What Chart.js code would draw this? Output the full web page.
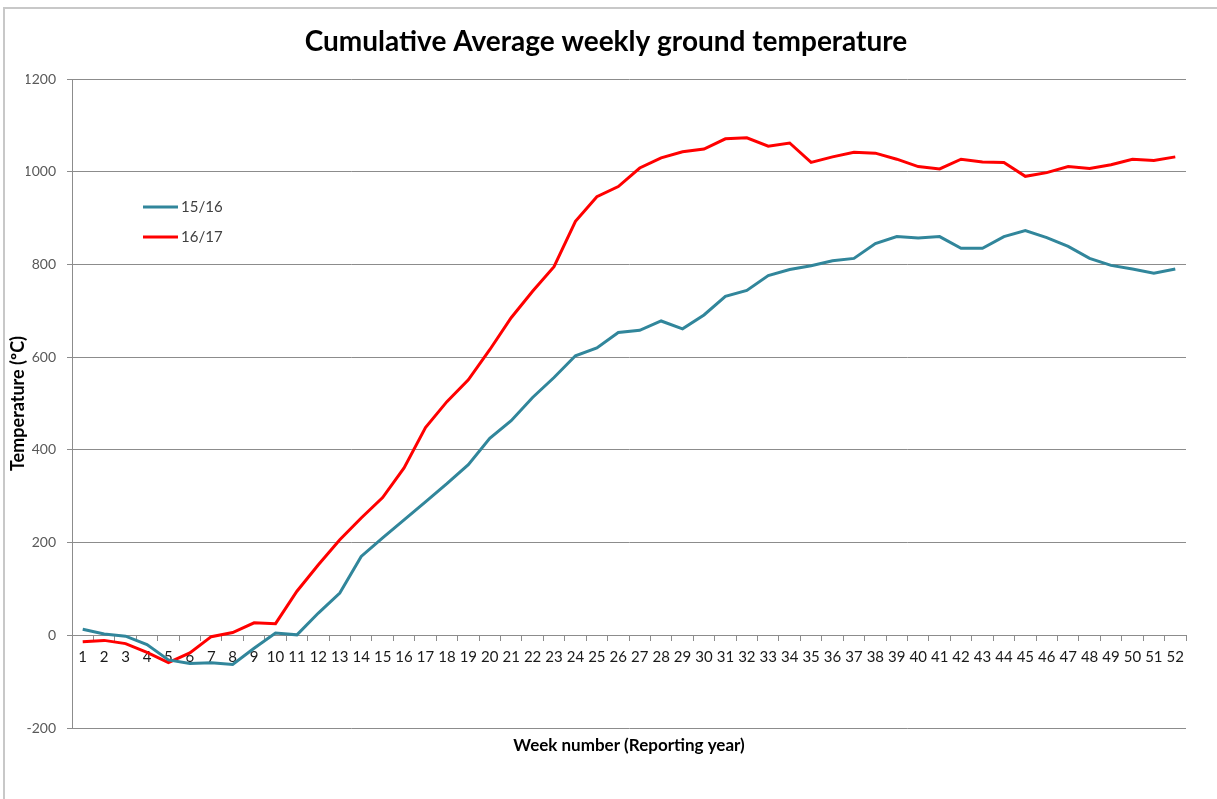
<!DOCTYPE html>
<html>
<head>
<meta charset="utf-8">
<title>Cumulative Average weekly ground temperature</title>
<script src="https://cdn.jsdelivr.net/npm/chart.js"></script>
<style>
    html, body { margin: 0; padding: 0; background: #ffffff; }
    #moldura {
        position: absolute; left: 3px; top: 7px; width: 1214px; height: 792px;
        border-left: 2px solid #c8c8c8; border-top: 2px solid #c8c8c8;
        pointer-events: none;
    }
    canvas { position: absolute; left: 0; top: 0; }
</style>
</head>
<body>
<canvas id="graficoTemperatura" width="1217" height="799"></canvas>
<div id="moldura"></div>
<script>
// semanas do ano de reporte
const semanas = [
    '1', '2', '3', '4', '5', '6', '7', '8', '9', '10', '11', '12', '13',
    '14', '15', '16', '17', '18', '19', '20', '21', '22', '23', '24', '25', '26',
    '27', '28', '29', '30', '31', '32', '33', '34', '35', '36', '37', '38', '39',
    '40', '41', '42', '43', '44', '45', '46', '47', '48', '49', '50', '51', '52'
];

// temperatura acumulada 15/16
const temp1516 = [
    13, 3, -2, -20, -53, -61, -59, -63, -28, 5, 1, 48, 91,
    170, 210, 249, 288, 327, 368, 425, 463, 513, 556, 603, 620, 653,
    658, 678, 661, 691, 731, 744, 776, 789, 797, 808, 813, 845, 860,
    857, 860, 835, 835, 860, 873, 858, 839, 813, 798, 790, 781, 790
];

// temperatura acumulada 16/17
const temp1617 = [
    -14, -11, -18, -37, -59, -38, -3, 6, 27, 25, 95, 152, 206,
    253, 297, 361, 448, 504, 551, 616, 685, 742, 795, 893, 946, 968,
    1008, 1030, 1043, 1049, 1071, 1073, 1055, 1062, 1020, 1032, 1042, 1040, 1027,
    1011, 1006, 1027, 1021, 1020, 990, 998, 1011, 1007, 1015, 1027, 1024, 1032
];

const ticksY = [-200, 0, 200, 400, 600, 800, 1000, 1200];

const corGrade = '#8c8c8c';

// legenda desenhada dentro da area do grafico, como no Excel
const legendaInterna = {
    id: 'legendaInterna',
    afterDraw(chart) {
        const ctx = chart.ctx;
        const area = chart.chartArea;
        let y = area.top + 128;
        chart.data.datasets.forEach(ds => {
            const x = area.left + 71;
            ctx.save();
            ctx.strokeStyle = ds.borderColor;
            ctx.lineWidth = 3;
            ctx.beginPath();
            ctx.moveTo(x, y);
            ctx.lineTo(x + 35, y);
            ctx.stroke();
            ctx.fillStyle = '#404040';
            ctx.font = '15px Lato';
            ctx.textBaseline = 'middle';
            ctx.fillText(ds.label, x + 38, y);
            ctx.restore();
            y += 30;
        });
    }
};

function desenharGrafico() {
    const ctx = document.getElementById('graficoTemperatura').getContext('2d');

    new Chart(ctx, {
        type: 'line',
        data: {
            labels: semanas,
            datasets: [
                {
                    label: '15/16',
                    data: temp1516,
                    borderColor: '#31869b',
                    backgroundColor: '#31869b',
                    borderWidth: 3,
                    pointRadius: 0,
                    tension: 0
                },
                {
                    label: '16/17',
                    data: temp1617,
                    borderColor: '#ff0000',
                    backgroundColor: '#ff0000',
                    borderWidth: 3,
                    pointRadius: 0,
                    tension: 0
                }
            ]
        },
        options: {
            responsive: false,
            animation: false,
            // padding esquerdo para centrar o titulo como no original
            layout: {
                padding: { left: 26, right: 31, top: 0, bottom: 0 }
            },
            plugins: {
                legend: { display: false },
                tooltip: { enabled: false },
                title: {
                    display: true,
                    text: 'Cumulative Average weekly ground temperature',
                    color: '#000000',
                    font: { family: 'Lato', size: 28, weight: 'bold', lineHeight: 1.2 },
                    padding: { top: 25, bottom: 20.4 }
                },
                subtitle: {
                    display: true,
                    position: 'bottom',
                    fullSize: false,
                    text: 'Week number (Reporting year)',
                    color: '#000000',
                    font: { family: 'Lato', size: 17, weight: 'bold', lineHeight: 1.2 },
                    padding: { top: 7, bottom: 43.6 }
                }
            },
            scales: {
                x: {
                    type: 'category',
                    position: { y: 0 },
                    offset: true,
                    border: { display: true, color: corGrade, width: 1 },
                    grid: {
                        offset: true,
                        drawOnChartArea: false,
                        drawTicks: true,
                        tickLength: 5,
                        color: corGrade
                    },
                    ticks: {
                        autoSkip: false,
                        maxRotation: 0,
                        padding: 8,
                        color: '#1a1a1a',
                        font: { family: 'Lato', size: 15 }
                    }
                },
                y: {
                    min: -200,
                    max: 1200,
                    afterBuildTicks: scale => {
                        scale.ticks = ticksY.map(v => ({ value: v }));
                    },
                    afterFit: scale => {
                        scale.width = 46;
                    },
                    border: { display: true, color: corGrade, width: 1 },
                    grid: {
                        color: corGrade,
                        lineWidth: 1,
                        drawTicks: true,
                        tickLength: 5
                    },
                    ticks: {
                        padding: 11,
                        color: '#595959',
                        font: { family: 'Lato', size: 14 },
                        callback: value => String(value)
                    },
                    title: {
                        display: true,
                        text: 'Temperature (ºC)',
                        color: '#000000',
                        font: { family: 'Lato', size: 18, weight: 'bold', lineHeight: 1.2 },
                        // titulo fica a esquerda da caixa do eixo
                        padding: { top: -18.8, bottom: 0 }
                    }
                }
            }
        },
        plugins: [legendaInterna]
    });
}

window.onload = function () {
    desenharGrafico();
}
</script>
</body>
</html>
